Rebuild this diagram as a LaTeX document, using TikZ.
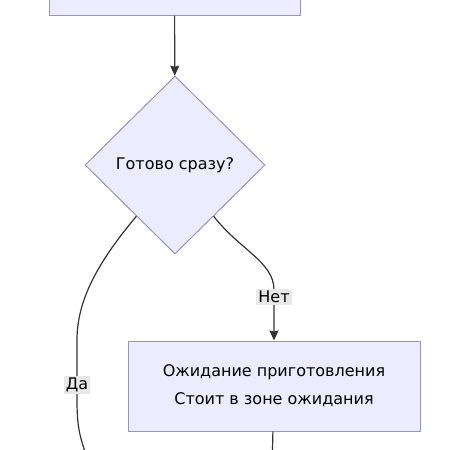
\documentclass[tikz,border=0pt]{standalone}
\usepackage{fontspec}
\setmainfont{DejaVu Sans}
\usepackage{xcolor}
\usepackage{tikz}
\usetikzlibrary{arrows.meta,shapes.geometric}
\definecolor{svetlySiren}{HTML}{ECECFF}
\definecolor{sirenKontur}{HTML}{9A92C2}
\definecolor{temnoSery}{HTML}{333333}
\definecolor{svetloSery}{HTML}{E8E8E8}

\begin{document}
\begin{tikzpicture}[x=1pt,y=-1pt,
  blok/.style={draw=sirenKontur,fill=svetlySiren,line width=1pt,
               minimum width=292pt,minimum height=90pt,align=center,
               font=\fontsize{16}{28}\selectfont},
  romb/.style={diamond,draw=sirenKontur,fill=svetlySiren,line width=1pt,
               inner sep=0pt,minimum width=180pt,minimum height=178pt,
               font=\fontsize{16}{18}\selectfont},
  metka/.style={fill=svetloSery,inner sep=2pt,text=black,
                font=\fontsize{16}{18}\selectfont},
  strelka/.style={-{Stealth[length=10pt,width=9pt,inset=1pt]},line width=1.2pt,temnoSery},
  liniya/.style={line width=1.2pt,temnoSery}]
\useasboundingbox (0,0) rectangle (450,450);
\node[blok,minimum width=251pt,minimum height=70pt] (prev) at (174.5,-20) {};
\node[romb] (ready) at (175,165) {Готово сразу?};
\node[blok] (wait) at (274,386) {Ожидание приготовления\\ Стоит в зоне ожидания};
\coordinate (yesEnd) at (100,485);
\coordinate (waitEnd) at (272,470);
\draw[strelka] (prev) -- (ready);
\draw[strelka] (ready.307) .. controls (240,250) and (274,262) .. (274,290)
  -- node[metka,pos=0.14]{Нет} (wait);
\draw[liniya] (ready.233) .. controls (98,262) and (77,300) .. (77,340)
  -- node[metka,pos=0.75]{Да} (77,400) .. controls (77,430) and (80,445) .. (yesEnd);
\draw[liniya] (wait) -- (waitEnd);
\end{tikzpicture}
\end{document}
